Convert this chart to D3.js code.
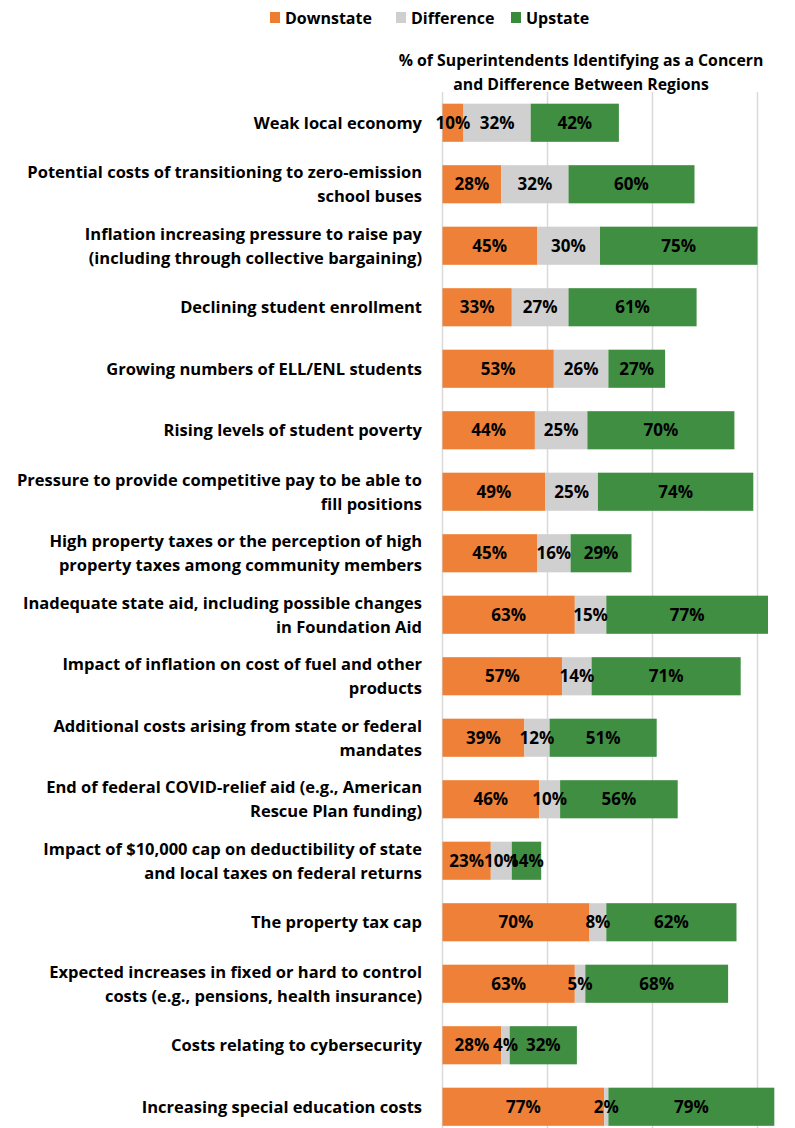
<!DOCTYPE html>
<html>
<head>
<meta charset="utf-8">
<script src="https://cdn.jsdelivr.net/npm/d3@7"></script>
<style>
  body { margin: 0; background: #fff; }
  svg text { font-family: "Open Sans", sans-serif; font-weight: bold; }
</style>
</head>
<body>
<div id="chart"></div>
<script>
// Categorías (líneas de cada etiqueta)
var categories = [
    ["Weak local economy"],
    ["Potential costs of transitioning to zero-emission", "school buses"],
    ["Inflation increasing pressure to raise pay", "(including through collective bargaining)"],
    ["Declining student enrollment"],
    ["Growing numbers of ELL/ENL students"],
    ["Rising levels of student poverty"],
    ["Pressure to provide competitive pay to be able to", "fill positions"],
    ["High property taxes or the perception of high", "property taxes among community members"],
    ["Inadequate state aid, including possible changes", "in Foundation Aid"],
    ["Impact of inflation on cost of fuel and other", "products"],
    ["Additional costs arising from state or federal", "mandates"],
    ["End of federal COVID-relief aid (e.g., American", "Rescue Plan funding)"],
    ["Impact of $10,000 cap on deductibility of state", "and local taxes on federal returns"],
    ["The property tax cap"],
    ["Expected increases in fixed or hard to control", "costs (e.g., pensions, health insurance)"],
    ["Costs relating to cybersecurity"],
    ["Increasing special education costs"]
];
var downstate  = [10, 28, 45, 33, 53, 44, 49, 45, 63, 57, 39, 46, 23, 70, 63, 28, 77];
var difference = [32, 32, 30, 27, 26, 25, 25, 16, 15, 14, 12, 10, 10, 8, 5, 4, 2];
var upstate    = [42, 60, 75, 61, 27, 70, 74, 29, 77, 71, 51, 56, 14, 62, 68, 32, 79];
var seriesNames = ["Downstate", "Difference", "Upstate"];
var gridTicks = [0, 50, 100, 150];
var titleLines = ["% of Superintendents Identifying as a Concern", "and Difference Between Regions"];

var colors = {Downstate: "#ED7D31", Difference: "#D0CECE", Upstate: "#3A8A3C"};

var width = 795, height = 1128;
var margin = {top: 92, left: 442.5};

var svg = d3.select("#chart").append("svg")
    .attr("width", width)
    .attr("height", height);

var rows = categories.map(function(c, i) {
    return {idx: i, lines: c, Downstate: downstate[i], Difference: difference[i], Upstate: upstate[i]};
});

var x = d3.scaleLinear().domain([0, 150]).range([margin.left, margin.left + 315]);
var y = d3.scaleBand().domain(d3.range(categories.length))
    .range([margin.top, margin.top + 61.5 * categories.length])
    .paddingInner(0.38).paddingOuter(0.19);

// Líneas de cuadrícula
svg.append("g").selectAll("line")
    .data(gridTicks)
    .enter().append("line")
    .attr("x1", d => x(d)).attr("x2", d => x(d))
    .attr("y1", margin.top).attr("y2", height)
    .attr("stroke", "#d9d9d9")
    .attr("stroke-width", 1.5);

var stack = d3.stack().keys(seriesNames)(rows);

var layers = svg.append("g").selectAll("g")
    .data(stack)
    .enter().append("g")
    .attr("fill", d => colors[d.key]);

layers.selectAll("rect")
    .data(d => d)
    .enter().append("rect")
    .attr("x", d => x(d[0]))
    .attr("y", (d, i) => y(i))
    .attr("width", d => x(d[1]) - x(d[0]))
    .attr("height", y.bandwidth())
    .attr("fill-opacity", 0.97);

// Etiquetas de valores
var labels = svg.append("g");
stack.forEach(function(layer) {
    labels.selectAll(null)
        .data(layer)
        .enter().append("text")
        .attr("x", d => (x(d[0]) + x(d[1])) / 2)
        .attr("y", (d, i) => y(i) + y.bandwidth() / 2)
        .attr("dy", "0.36em")
        .attr("text-anchor", "middle")
        .attr("font-size", 17)
        .attr("fill", "#000")
        .text(d => (d[1] - d[0]) + "%");
});

// Etiquetas de categorías
var catG = svg.append("g");
rows.forEach(function(r) {
    var cy = y(r.idx) + y.bandwidth() / 2;
    var n = r.lines.length;
    r.lines.forEach(function(line, j) {
        catG.append("text")
            .attr("x", 422)
            .attr("y", cy + (j - (n - 1) / 2) * 24)
            .attr("dy", "0.36em")
            .attr("text-anchor", "end")
            .attr("font-size", 16.5)
            .attr("fill", "#000")
            .text(line);
    });
});

// Título
svg.append("g").selectAll("text")
    .data(titleLines)
    .enter().append("text")
    .attr("x", 581)
    .attr("y", (d, i) => 60 + i * 24)
    .attr("dy", "0.36em")
    .attr("text-anchor", "middle")
    .attr("font-size", 15.8)
    .text(d => d);

// Leyenda
var legendX = [270, 396, 511];
var legend = svg.append("g").selectAll("g")
    .data(seriesNames)
    .enter().append("g")
    .attr("transform", (d, i) => "translate(" + legendX[i] + ",12)");
legend.append("rect")
    .attr("width", 10).attr("height", 11)
    .attr("fill", d => colors[d]);
legend.append("text")
    .attr("x", 15).attr("y", 6)
    .attr("dy", "0.36em")
    .attr("font-size", 16)
    .text(d => d);
</script>
</body>
</html>
